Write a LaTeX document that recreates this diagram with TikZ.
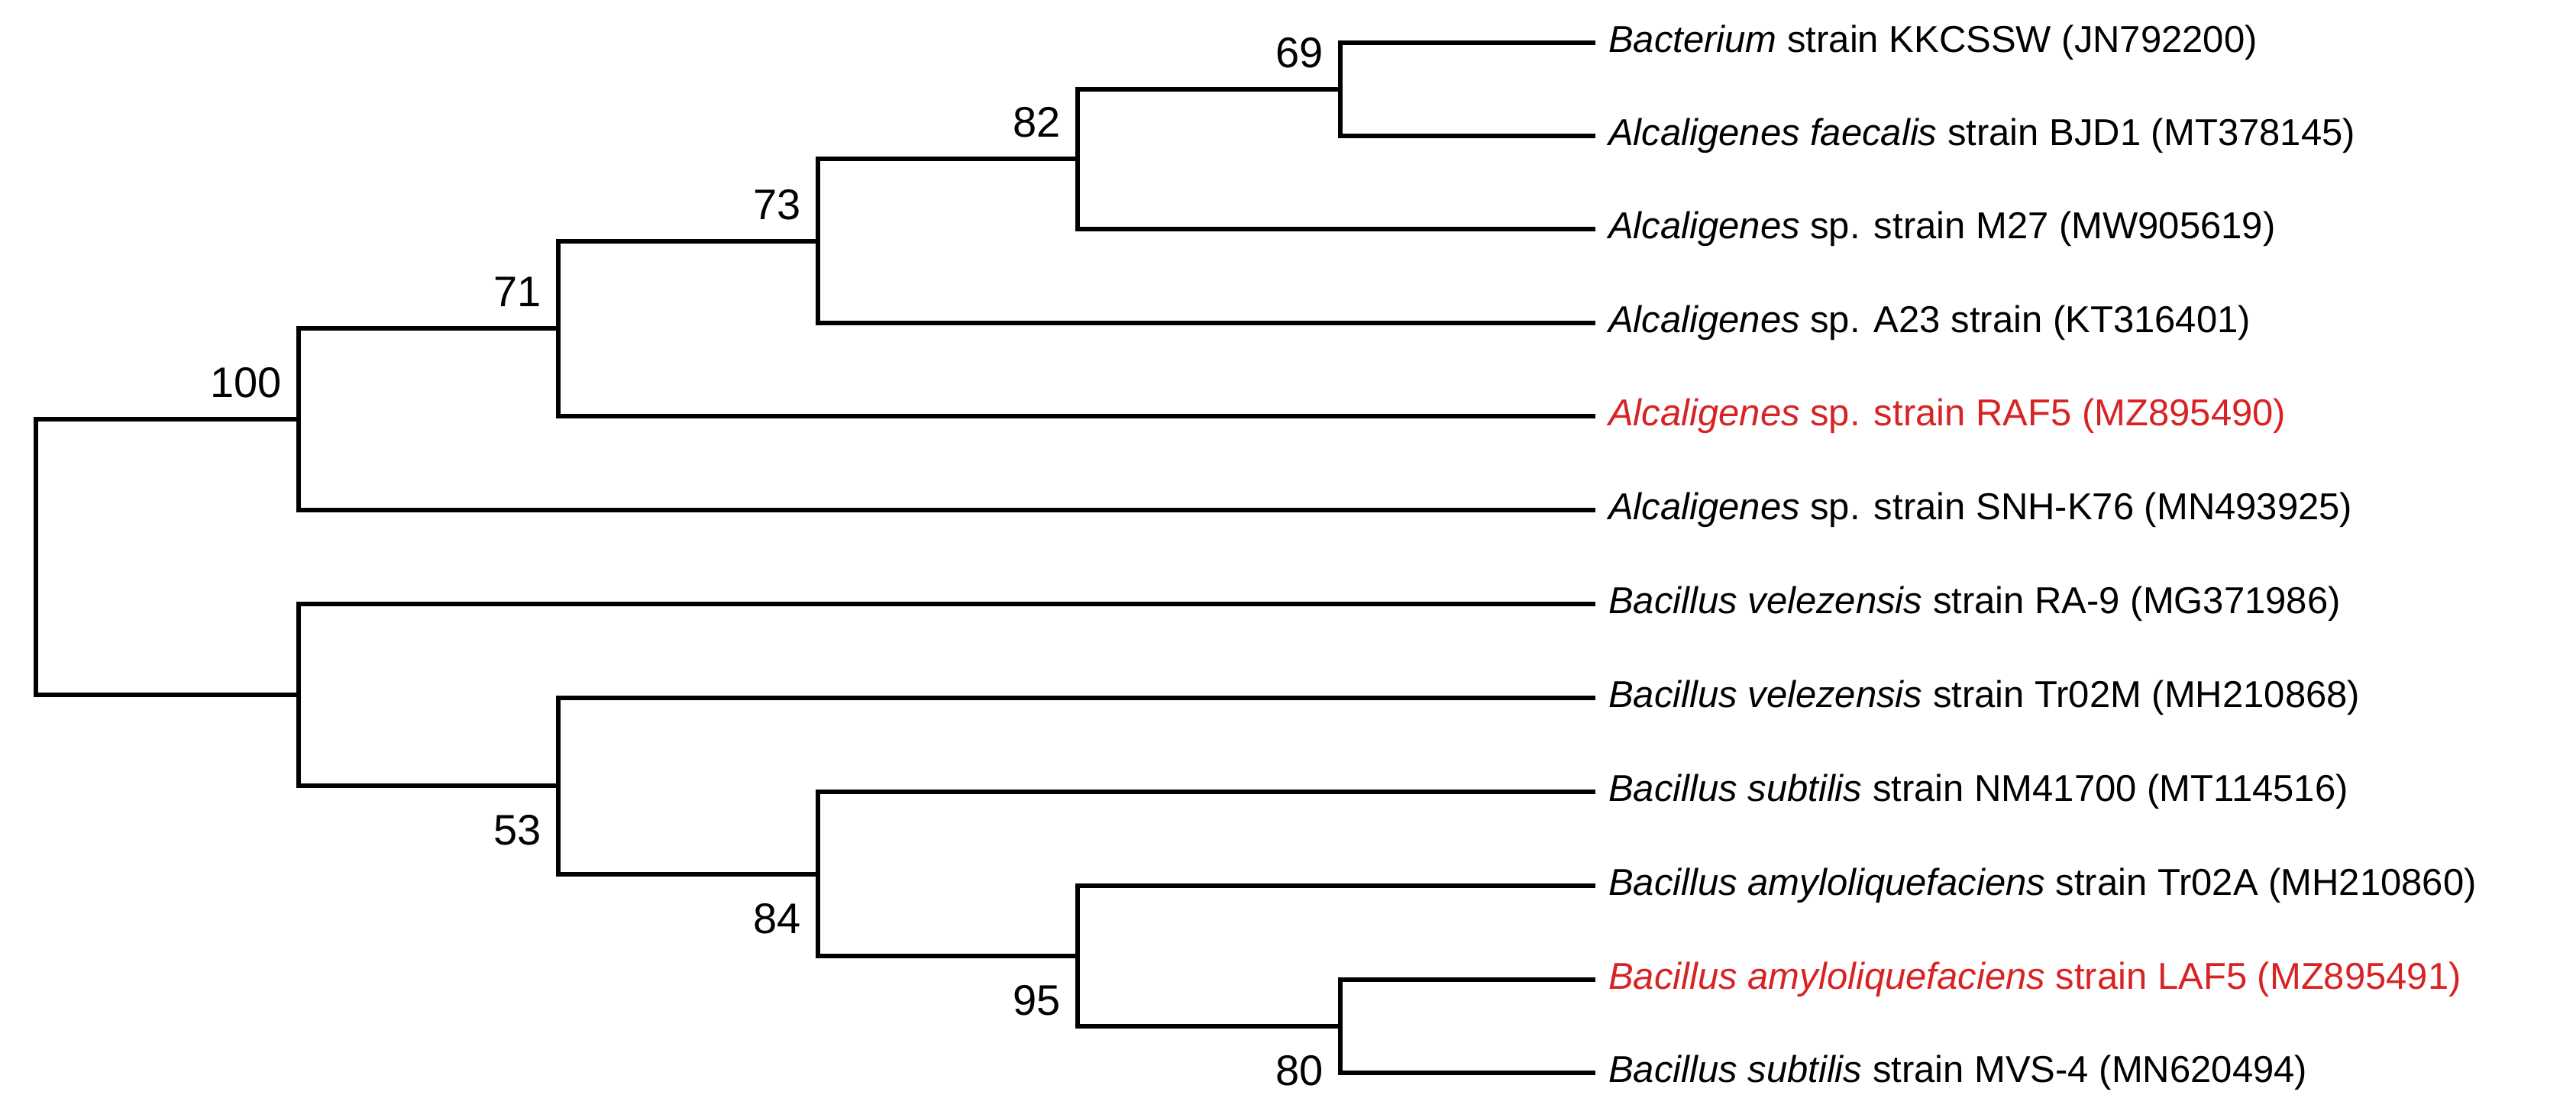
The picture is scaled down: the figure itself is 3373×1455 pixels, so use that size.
\documentclass[tikz,border=0pt]{standalone}
\usepackage{fontspec}
\setmainfont{Liberation Sans}
\begin{document}
\begin{tikzpicture}[x=1pt,y=-1pt,
  br/.style={line width=5.5pt,line cap=rect},
  lf/.style={anchor=west,inner sep=0pt,font=\fontsize{49}{56}\selectfont},
  bs/.style={inner sep=0pt,font=\fontsize{56}{64}\selectfont}]
\useasboundingbox (0,0) rectangle (3373,1455);
\definecolor{hl}{RGB}{215,35,35}
\foreach \n/\y in {1/56,2/178,3/300,4/423,5/545,6/668,7/791,8/914,9/1037,10/1160,11/1283,12/1405}
  \coordinate (L\n) at (2086,\y);
\coordinate (n69) at (1755,117);
\coordinate (n82) at (1411,208);
\coordinate (n73) at (1071,316);
\coordinate (n71) at (731,430);
\coordinate (n100) at (391,549);
\coordinate (n80) at (1755,1344);
\coordinate (n95) at (1411,1252);
\coordinate (n84) at (1071,1145);
\coordinate (n53) at (731,1029);
\coordinate (nB) at (391,910);
\coordinate (root) at (47,730);
\draw[br] (n69|-L1) -- (L1) (n69|-L2) -- (L2) (n69|-L1) -- (n69|-L2);
\draw[br] (n82|-n69) -- (n69) (n82|-L3) -- (L3) (n82|-n69) -- (n82|-L3);
\draw[br] (n73|-n82) -- (n82) (n73|-L4) -- (L4) (n73|-n82) -- (n73|-L4);
\draw[br] (n71|-n73) -- (n73) (n71|-L5) -- (L5) (n71|-n73) -- (n71|-L5);
\draw[br] (n100|-n71) -- (n71) (n100|-L6) -- (L6) (n100|-n71) -- (n100|-L6);
\draw[br] (n80|-L11) -- (L11) (n80|-L12) -- (L12) (n80|-L11) -- (n80|-L12);
\draw[br] (n95|-L10) -- (L10) (n95|-n80) -- (n80) (n95|-L10) -- (n95|-n80);
\draw[br] (n84|-L9) -- (L9) (n84|-n95) -- (n95) (n84|-L9) -- (n84|-n95);
\draw[br] (n53|-L8) -- (L8) (n53|-n84) -- (n84) (n53|-L8) -- (n53|-n84);
\draw[br] (nB|-L7) -- (L7) (nB|-n53) -- (n53) (nB|-L7) -- (nB|-n53);
\draw[br] (root|-n100) -- (n100) (root|-nB) -- (nB) (root|-n100) -- (root|-nB);
\node[bs,anchor=south east] (b69) at ([xshift=-22pt,yshift=28pt]n69) {69};
\node[bs,anchor=south east] (b82) at ([xshift=-22pt,yshift=28pt]n82) {82};
\node[bs,anchor=south east] (b73) at ([xshift=-22pt,yshift=28pt]n73) {73};
\node[bs,anchor=south east] (b71) at ([xshift=-22pt,yshift=28pt]n71) {71};
\node[bs,anchor=south east] (b100) at ([xshift=-22pt,yshift=28pt]n100) {100};
\node[bs,anchor=north east] (b53) at ([xshift=-22pt,yshift=-38pt]n53) {53};
\node[bs,anchor=north east] (b84) at ([xshift=-22pt,yshift=-38pt]n84) {84};
\node[bs,anchor=north east] (b95) at ([xshift=-22pt,yshift=-38pt]n95) {95};
\node[bs,anchor=north east] (b80) at ([xshift=-22pt,yshift=-38pt]n80) {80};
\node[lf] (t1) at ([xshift=20pt]L1) {\textit{Bacterium} strain KKCSSW (JN792200)};
\node[lf] (t2) at ([xshift=20pt]L2) {\textit{Alcaligenes faecalis} strain BJD1 (MT378145)};
\node[lf] (t3) at ([xshift=20pt]L3) {\textit{Alcaligenes} sp. strain M27 (MW905619)};
\node[lf] (t4) at ([xshift=20pt]L4) {\textit{Alcaligenes} sp. A23 strain (KT316401)};
\node[lf,text=hl] (t5) at ([xshift=20pt]L5) {\textit{Alcaligenes} sp. strain RAF5 (MZ895490)};
\node[lf] (t6) at ([xshift=20pt]L6) {\textit{Alcaligenes} sp. strain SNH-K76 (MN493925)};
\node[lf] (t7) at ([xshift=20pt]L7) {\textit{Bacillus velezensis} strain RA-9 (MG371986)};
\node[lf] (t8) at ([xshift=20pt]L8) {\textit{Bacillus velezensis} strain Tr02M (MH210868)};
\node[lf] (t9) at ([xshift=20pt]L9) {\textit{Bacillus subtilis} strain NM41700 (MT114516)};
\node[lf] (t10) at ([xshift=20pt]L10) {\textit{Bacillus amyloliquefaciens} strain Tr02A (MH210860)};
\node[lf,text=hl] (t11) at ([xshift=20pt]L11) {\textit{Bacillus amyloliquefaciens} strain LAF5 (MZ895491)};
\node[lf] (t12) at ([xshift=20pt]L12) {\textit{Bacillus subtilis} strain MVS-4 (MN620494)};
\end{tikzpicture}
\end{document}
